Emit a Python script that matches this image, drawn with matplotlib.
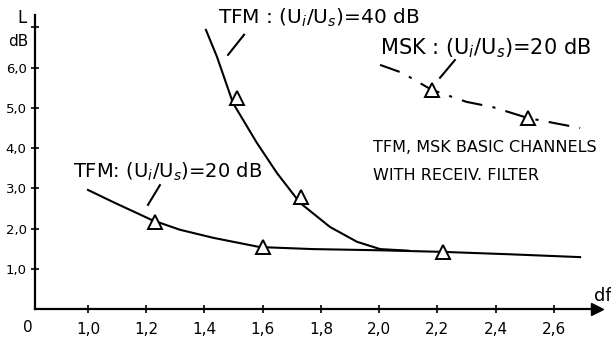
import matplotlib
matplotlib.use("Agg")
import matplotlib.pyplot as plt

# ---- data ----
x_ticks = [1.0, 1.2, 1.4, 1.6, 1.8, 2.0, 2.2, 2.4, 2.6]
x_tick_labels = ["1,0", "1,2", "1,4", "1,6", "1,8", "2,0", "2,2", "2,4", "2,6"]
y_ticks = [1, 2, 3, 4, 5, 6]
y_tick_labels = ["1,0", "2,0", "3,0", "4,0", "5,0", "6,0"]

# TFM (Ui/Us)=20 dB curve
tfm20_x = [1.0, 1.086, 1.22, 1.316, 1.43, 1.59, 1.77, 2.0, 2.22, 2.45, 2.69]
tfm20_y = [2.96, 2.66, 2.21, 1.97, 1.77, 1.54, 1.49, 1.46, 1.42, 1.36, 1.29]
tfm20_mx = [1.23, 1.60, 2.22]
tfm20_my = [2.16, 1.54, 1.42]

# TFM (Ui/Us)=40 dB curve
tfm40_x = [1.405, 1.443, 1.498, 1.58, 1.649, 1.728, 1.831, 1.924, 2.003, 2.1]
tfm40_y = [6.94, 6.27, 5.12, 4.13, 3.38, 2.64, 2.04, 1.67, 1.49, 1.45]
tfm40_mx = [1.51, 1.73]
tfm40_my = [5.25, 2.79]

# MSK (Ui/Us)=20 dB curve
msk_x = [2.003, 2.08, 2.18, 2.30, 2.39, 2.51, 2.69]
msk_y = [6.07, 5.87, 5.45, 5.15, 5.02, 4.75, 4.50]
msk_mx = [2.18, 2.51]
msk_my = [5.45, 4.75]

# ---- figure ----
fig = plt.figure(figsize=(6.11, 3.38), dpi=100)
ax = fig.add_axes([35/611, 29/338, 562/611, 294/338])
ax.set_xlim(0.818, 2.748)
ax.set_ylim(0, 7.31)

for s in ["top", "right"]:
    ax.spines[s].set_visible(False)
for s in ["left", "bottom"]:
    ax.spines[s].set_linewidth(1.6)

ax.plot(1, 0, ">k", markersize=8, transform=ax.get_yaxis_transform(), clip_on=False)
ax.plot(0, 1, "^k", markersize=8, transform=ax.get_xaxis_transform(), clip_on=False)

ax.set_xticks(x_ticks)
ax.set_xticklabels(x_tick_labels)
ax.set_yticks(y_ticks + [7])
ax.set_yticklabels(y_tick_labels + [""])
ax.tick_params(direction="inout", length=6, width=1.2, labelsize=11)
ax.tick_params(axis="x", pad=6)
ax.tick_params(axis="y", labelsize=9.5, pad=3)

lw = 1.5
tri = dict(marker="^", markersize=10, markerfacecolor="white",
           markeredgecolor="black", markeredgewidth=1.4, linestyle="none", zorder=3)

ax.plot(tfm20_x, tfm20_y, color="black", lw=lw)
ax.plot(tfm20_mx, tfm20_my, **tri)
ax.plot(tfm40_x, tfm40_y, color="black", lw=lw)
ax.plot(tfm40_mx, tfm40_my, **tri)
ax.plot(msk_x, msk_y, color="black", lw=lw, linestyle=(0, (10, 5, 1.5, 5)))
ax.plot(msk_mx, msk_my, **tri)

# leader lines
ax.plot([1.481, 1.536], [6.32, 6.82], color="black", lw=1.5)
ax.plot([1.206, 1.247], [2.59, 3.08], color="black", lw=1.5)
ax.plot([2.209, 2.26], [5.75, 6.19], color="black", lw=1.5)

fig.text(218/611, 1 - 18/338, r"TFM : (U$_i$/U$_s$)=40 dB", fontsize=14.5, ha="left", va="center")
fig.text(380/611, 1 - 48/338, r"MSK : (U$_i$/U$_s$)=20 dB", fontsize=15, ha="left", va="center")
fig.text(73/611, 1 - 172/338, r"TFM: (U$_i$/U$_s$)=20 dB", fontsize=14, ha="left", va="center")
fig.text(373/611, 1 - 147/338, "TFM, MSK BASIC CHANNELS", fontsize=11.5, ha="left", va="center")
fig.text(373/611, 1 - 175/338, "WITH RECEIV. FILTER", fontsize=11.5, ha="left", va="center")
fig.text(22/611, 1 - 18/338, "L", fontsize=12, ha="center", va="center")
fig.text(18/611, 1 - 42/338, "dB", fontsize=11, ha="center", va="center")
fig.text(603/611, 1 - 296/338, "df", fontsize=13, ha="center", va="center")
fig.text(28/611, 1 - 328/338, "0", fontsize=11, ha="center", va="center")

fig.savefig("out.png", dpi=100)
